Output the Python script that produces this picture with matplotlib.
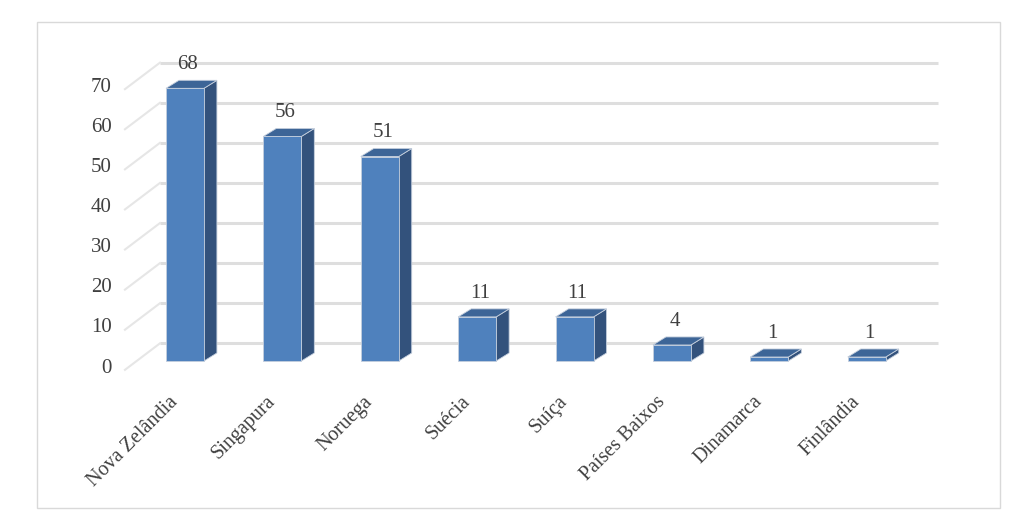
import matplotlib.pyplot as plt
from matplotlib.patches import Rectangle

countries = ["Nova Zelândia", "Singapura", "Noruega", "Suécia", "Suíça",
             "Países Baixos", "Dinamarca", "Finlândia"]
counts = [68, 56, 51, 11, 11, 4, 1, 1]
yticks = [0, 10, 20, 30, 40, 50, 60, 70]

# colours of the faces of each box
front_col = "#4f81bd"
side_col = "#33527c"
top_col = "#3d6597"
text_col = "#404040"

plt.rcParams["font.family"] = ["Liberation Serif", "DejaVu Serif"]

fig = plt.figure(figsize=(10.3, 5.2), dpi=100)
ax = fig.add_axes([60 / 1030, 20 / 520, 900 / 1030, 480 / 520])
ax.set_xlim(-1.283, 7.957)
ax.set_ylim(-34.66, 85.04)
ax.axis("off")

# oblique offsets (data units) to fake the 3D look
width = 0.39
bar_dx, bar_dy = 0.133, 2.0      # depth of a box
wall_x, wall_dy = -0.257, 4.4    # back wall start and lift over bar front
front_x, front_dy = -0.616, -2.2  # front edge of the floor
grid_end = 7.73

# back wall gridlines and side diagonals
for v in yticks:
    ax.plot([wall_x, grid_end], [v + wall_dy, v + wall_dy],
            color="#dedede", lw=2.2, solid_capstyle="butt", zorder=1)
    ax.plot([front_x, wall_x], [v + front_dy, v + wall_dy],
            color="#e6e6e6", lw=1.5, zorder=1)
    ax.text(-0.75, v - 1.75, str(v), ha="right", va="center",
            fontsize=15, color=text_col)

for i, (name, v) in enumerate(zip(countries, counts)):
    xl = i - width / 2
    xr = i + width / 2
    # side face
    ax.fill([xr, xr + bar_dx, xr + bar_dx, xr],
            [0, bar_dy, v + bar_dy, v],
            color=side_col, ec="#c5cfdd", lw=0.6, zorder=3)
    # top face
    ax.fill([xl, xl + bar_dx, xr + bar_dx, xr],
            [v, v + bar_dy, v + bar_dy, v],
            color=top_col, ec="#c5cfdd", lw=0.6, zorder=3)
    ax.bar(i, v, width=width, color=front_col, edgecolor="#c5cfdd",
           linewidth=0.6, zorder=4)
    ax.text(i + 0.03, v + bar_dy + 3.9, str(v), ha="center", va="center",
            fontsize=15, color=text_col, zorder=5)
    ax.text(i - 0.1, -9.5, name, ha="right", va="center", rotation=45,
            rotation_mode="anchor", fontsize=14.5, color=text_col)

# chart border
fig.patches.append(Rectangle((37 / 1030, 12 / 520), 963 / 1030, 486 / 520,
                             transform=fig.transFigure, fill=False,
                             ec="#d9d9d9", lw=1))

fig.savefig("out.png", dpi=100)
